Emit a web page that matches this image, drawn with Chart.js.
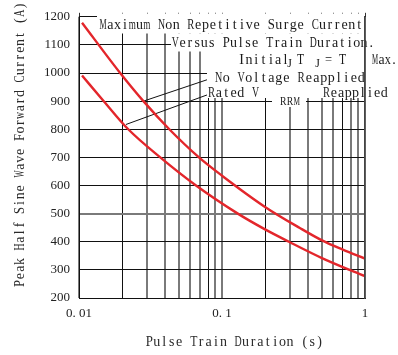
<!DOCTYPE html>
<html><head><meta charset="utf-8">
<script src="https://cdn.jsdelivr.net/npm/chart.js@4/dist/chart.umd.min.js"></script>
<style>html,body{margin:0;padding:0;background:#fff}#wrap{width:398px;height:355px}</style>
</head><body><div id="wrap"><canvas id="c" width="398" height="355"></canvas></div>
<script>
// ---- data ----
const xTickValues = [0.01,0.02,0.03,0.04,0.05,0.06,0.07,0.08,0.09,0.1,0.2,0.3,0.4,0.5,0.6,0.7,0.8,0.9,1];
const xTickLabels = ['0. 01','','','','','','','','','0. 1','','','','','','','','','1'];
const yTickValues = [200,300,400,500,600,700,800,900,1000,1100,1200];

const noVoltageX = [0.0105,0.0194,0.0282,0.0428,0.069,0.1,0.2,0.35,0.5,0.7,1.0];
const noVoltageY = [1179,1000,900,800,700,635,524,449,405,372,340];

const ratedX = [0.0105,0.0149,0.0221,0.037,0.0658,0.129,0.2,0.294,0.5,0.78,1.0];
const ratedY = [991,900,800,700,600,500,444,400,342,300,278];

const leaderNoVoltX = [0.0282,0.0785];
const leaderNoVoltY = [900,976];
const leaderRatedX = [0.0213,0.0785];
const leaderRatedY = [817,922];

const xTitle = 'Pulse Train Duration (s)';
const yTitle = 'Peak Half Sine Wave Forward Current (A)';
const noteLine1 = 'Maximum Non Repetitive Surge Current';
const noteLine2 = 'Versus Pulse Train Duration.';
const noteLine4 = 'No Voltage Reapplied';

// ---- helpers ----
const pts = (xs, ys) => xs.map((x, i) => ({x, y: ys[i]}));
const SERIF = '"Liberation Serif", "DejaVu Serif", serif';
const darkX = [0.02,0.08,0.2,0.7];
const grayY = [500];

function drawMono(ctx, text, x0, yc, pitch, size, color) {
  ctx.save();
  ctx.font = size + 'px ' + SERIF;
  ctx.fillStyle = color || '#1a1a1a';
  ctx.textAlign = 'center';
  ctx.textBaseline = 'middle';
  for (let i = 0; i < text.length; i++) {
    const ch = text[i];
    if (ch === ' ') continue;
    const w = ctx.measureText(ch).width;
    const s = Math.min(1, (pitch * 0.97) / w);
    ctx.save();
    ctx.translate(x0 + (i + 0.5) * pitch, yc);
    ctx.scale(s, 1);
    ctx.fillText(ch, 0, 0);
    ctx.restore();
  }
  ctx.restore();
}

const notesPlugin = {
  id: 'notes',
  beforeDatasetsDraw(chart) {
    const ctx = chart.ctx;
    ctx.save();
    ctx.fillStyle = '#ffffff';
    ctx.fillRect(97, 13.5, 268, 20);
    ctx.fillRect(171, 33.5, 194, 18);
    ctx.fillRect(207, 51, 158, 47);
    ctx.fillRect(272, 98, 34, 9);
    ctx.restore();
    drawMono(ctx, noteLine1, 99.3, 25.5, 7.32, 14);
    drawMono(ctx, noteLine2, 171.7, 43, 7.26, 14);
    // Initial T_J = T_J Max.
    drawMono(ctx, 'Initial', 238, 60, 7.3, 14);
    drawMono(ctx, 'J', 286, 64, 7, 12);
    drawMono(ctx, 'T', 297, 60, 7.3, 14);
    drawMono(ctx, 'J', 314, 64, 7, 12);
    drawMono(ctx, '=', 325, 60, 7.3, 14);
    drawMono(ctx, 'T', 339, 60, 7.3, 14);
    drawMono(ctx, 'Max.', 372, 60, 6.3, 14);
    drawMono(ctx, noteLine4, 215, 78, 7.5, 14);
    drawMono(ctx, 'Rated V', 208, 93, 7.3, 14);
    drawMono(ctx, 'RRM', 280, 102, 6.7, 12);
    drawMono(ctx, 'Reapplied', 323, 93, 7.22, 14);
  },
  afterDraw(chart) {
    const ctx = chart.ctx;
    drawMono(ctx, xTitle, 145.7, 342, 7.4, 14, '#2a2a2a');
    ctx.save();
    ctx.translate(20.5, 144.5);
    ctx.rotate(-Math.PI / 2);
    drawMono(ctx, yTitle, -142.5, 0, 7.3, 14, '#2a2a2a');
    ctx.restore();
  }
};

const setXTicks = (s) => { s.ticks = xTickValues.map(v => ({value: v})); };

new Chart(document.getElementById('c'), {
  type: 'line',
  data: {
    datasets: [
      {label: 'No Voltage Reapplied', data: pts(noVoltageX, noVoltageY), borderColor: '#e3262b', borderWidth: 2.4, pointRadius: 0, cubicInterpolationMode: 'monotone', fill: false},
      {label: 'Rated VRRM Reapplied', data: pts(ratedX, ratedY), borderColor: '#e3262b', borderWidth: 2.4, pointRadius: 0, cubicInterpolationMode: 'monotone', fill: false},
      {label: 'leader1', data: pts(leaderNoVoltX, leaderNoVoltY), borderColor: '#111', borderWidth: 1, pointRadius: 0, tension: 0, fill: false},
      {label: 'leader2', data: pts(leaderRatedX, leaderRatedY), borderColor: '#111', borderWidth: 1, pointRadius: 0, tension: 0, fill: false}
    ]
  },
  options: {
    responsive: false,
    animation: false,
    devicePixelRatio: 1,
    layout: {padding: 0},
    plugins: {legend: {display: false}, tooltip: {enabled: false}},
    scales: {
      x: {
        type: 'logarithmic', position: 'bottom', min: 0.01, max: 1,
        afterBuildTicks: setXTicks,
        afterFit: (s) => { s.height = 57; },
        ticks: {
          autoSkip: false, maxRotation: 0, padding: 8, color: '#222',
          font: {family: SERIF, size: 13},
          callback: (v, i) => xTickLabels[i]
        },
        grid: {
          drawTicks: false,
          color: (c) => (c.tick && darkX.includes(c.tick.value)) ? '#111' : '#7a7a7a',
          lineWidth: (c) => (c.tick && darkX.includes(c.tick.value)) ? 1 : 2
        },
        border: {display: true, color: '#111', width: 1}
      },
      xTop: {
        type: 'logarithmic', position: 'top', min: 0.01, max: 1,
        afterBuildTicks: setXTicks,
        afterFit: (s) => { s.height = 14; },
        ticks: {display: false},
        grid: {drawOnChartArea: false, drawTicks: true, tickLength: 4, color: '#333', lineWidth: 1},
        border: {display: true, color: '#111', width: 1}
      },
      y: {
        type: 'linear', position: 'left', min: 200, max: 1200,
        afterBuildTicks: (s) => { s.ticks = yTickValues.map(v => ({value: v})); },
        afterFit: (s) => { s.width = 79; },
        ticks: {padding: 9, color: '#222', font: {family: SERIF, size: 13}, callback: (v) => String(v)},
        grid: {
          drawTicks: false,
          color: (c) => (c.tick && grayY.includes(c.tick.value)) ? '#7a7a7a' : '#111',
          lineWidth: (c) => (c.tick && grayY.includes(c.tick.value)) ? 2 : 1
        },
        border: {display: true, color: '#111', width: 1}
      },
      yRight: {
        type: 'linear', position: 'right', min: 200, max: 1200,
        afterFit: (s) => { s.width = 33; },
        ticks: {display: false},
        grid: {drawOnChartArea: false, drawTicks: false},
        border: {display: true, color: '#444', width: 1.5, z: 1}
      }
    }
  },
  plugins: [notesPlugin]
});
</script>
</body></html>
